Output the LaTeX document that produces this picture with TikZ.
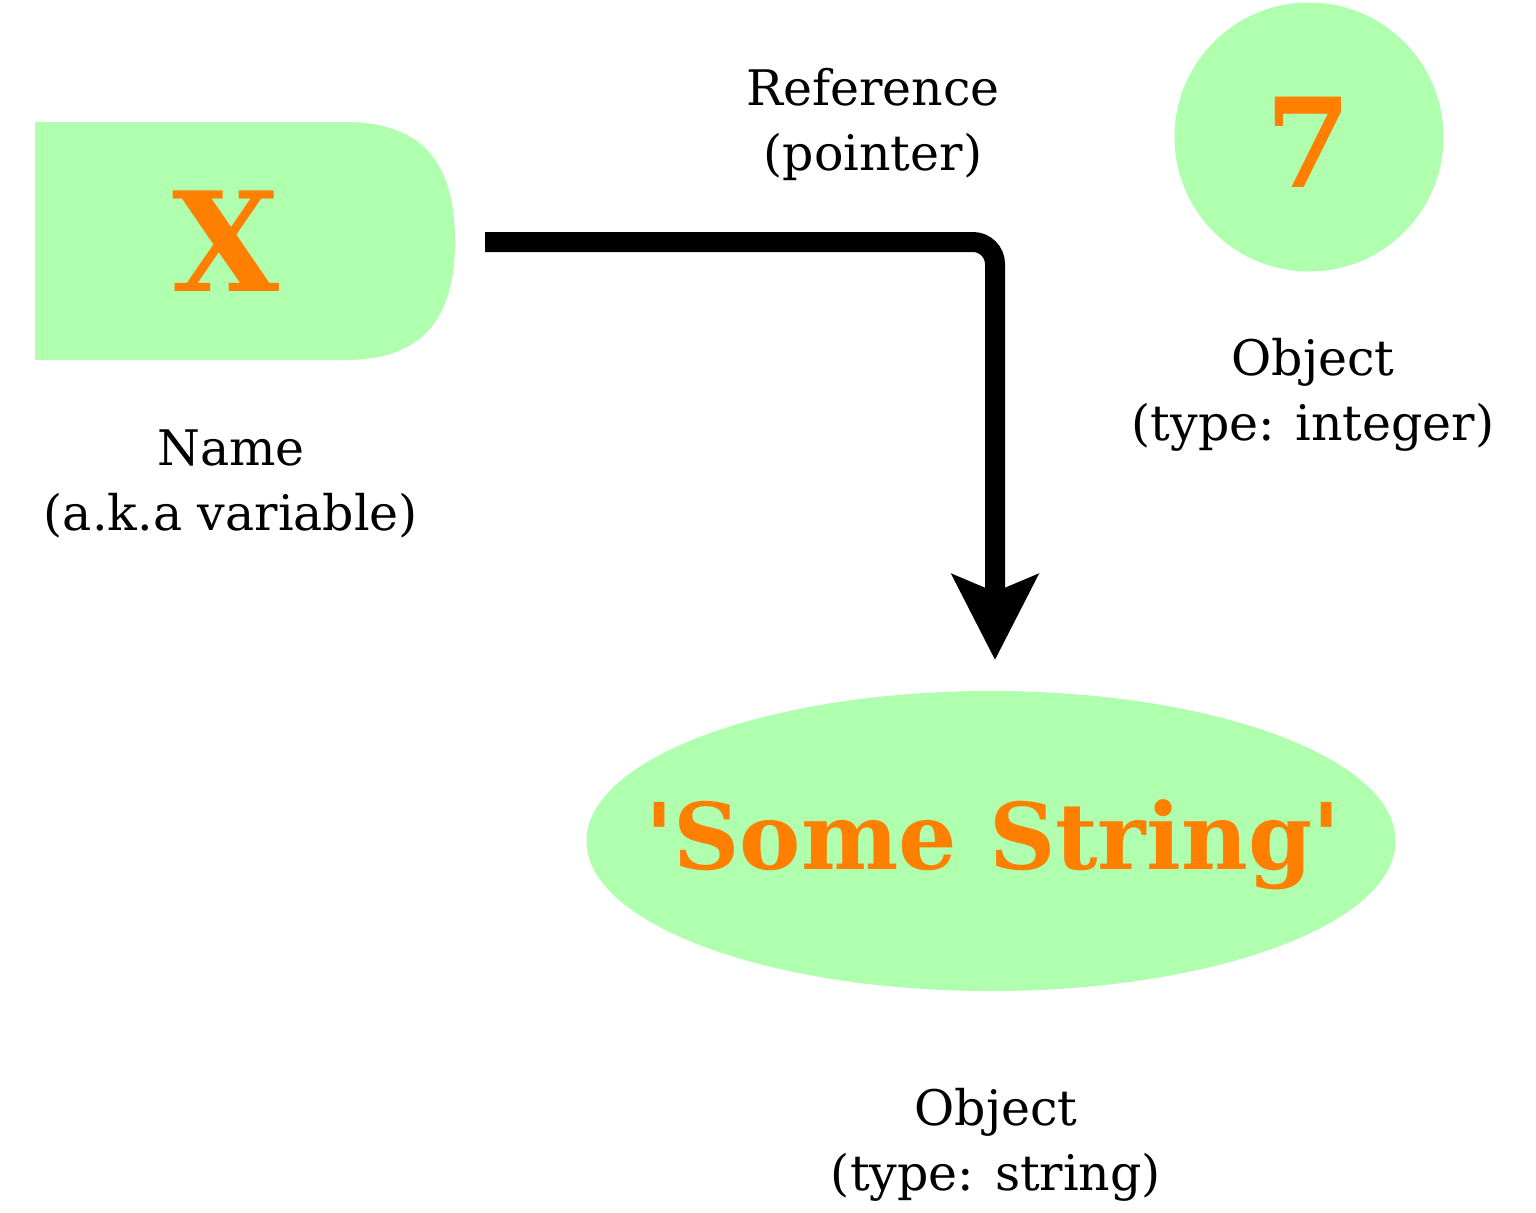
\documentclass[tikz,border=0pt]{standalone}
\usepackage{fontspec}
\setmainfont{DejaVu Serif}
\newfontfamily\valfont{DejaVu Serif}
\usetikzlibrary{arrows.meta}
\definecolor{objgreen}{RGB}{175,255,174}
\definecolor{valorange}{RGB}{255,128,0}
\tikzset{
  lbl/.style={align=center, font=\fontsize{24.5}{32.5}\selectfont, inner sep=0pt},
  val/.style={text=valorange, inner sep=0pt},
}
\begin{document}
\begin{tikzpicture}[x=0.5pt,y=-0.5pt]
\useasboundingbox (0,0) rectangle (1536,1212);
% name box
\fill[objgreen] (35,122) -- (345,122) .. controls (420,122) and (455,160) .. (455,241)
  .. controls (455,322) and (420,360) .. (345,360) -- (35,360) -- cycle;
\node[val, font=\valfont\fontsize{69}{69}\bfseries\selectfont] (x) at (226,241) {X};
% integer object
\fill[objgreen] (1309,137) circle[radius=134.5];
\node[val, font=\valfont\fontsize{62}{62}\bfseries\selectfont] (seven) at (1309,142) {7};
% string object
\fill[objgreen] (991,841) ellipse[x radius=404.5, y radius=150];
\node[val, font=\valfont\fontsize{46}{46}\bfseries\selectfont] (str) at (993,845) {'Some String'};
% labels
\node[lbl] (lref) at (873,124) {Reference\\(pointer)};
\node[lbl] (lname) at (231,484) {Name\\(a.k.a variable)};
\node[lbl] (lint) at (1313,395) {Object\\(type: integer)};
\node[lbl] (lstr) at (996,1145) {Object\\(type: string)};
% arrow
\coordinate (a0) at (485,242);
\coordinate (a1) at (995,242);
\coordinate (a2) at (995,660);
\draw[line width=10pt, rounded corners=11pt, -{Stealth[length=42.5pt, width=42.5pt, inset=8.5pt]}] (a0) -- (a1) -- (a2);
\end{tikzpicture}
\end{document}
